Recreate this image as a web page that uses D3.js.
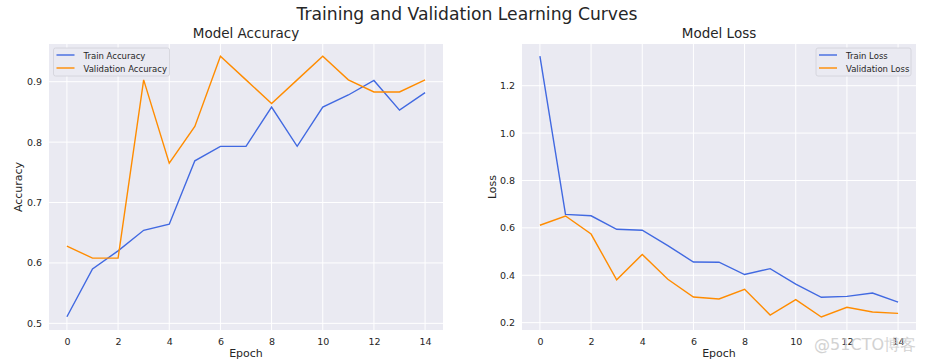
<!DOCTYPE html>
<html>
<head>
<meta charset="utf-8">
<script src="https://cdn.jsdelivr.net/npm/d3@7"></script>
<style>
  body { margin: 0; background: #fff; }
  text { font-family: "DejaVu Sans", sans-serif; }
</style>
</head>
<body>
<div id="chart"></div>
<script>
const epochs = d3.range(0, 15)
const trainAcc = [0.511, 0.590, 0.620, 0.654, 0.664, 0.769, 0.793, 0.793, 0.858, 0.793, 0.858, 0.878, 0.902, 0.853, 0.882]
const valAcc = [0.628, 0.608, 0.608, 0.903, 0.765, 0.826, 0.942, 0.903, 0.864, 0.903, 0.942, 0.903, 0.883, 0.883, 0.903]
const trainLoss = [1.325, 0.657, 0.651, 0.594, 0.590, 0.525, 0.456, 0.455, 0.403, 0.428, 0.363, 0.307, 0.311, 0.325, 0.287]
const valLoss = [0.611, 0.650, 0.574, 0.381, 0.488, 0.383, 0.308, 0.300, 0.341, 0.232, 0.297, 0.224, 0.265, 0.245, 0.239]
const xTicks = [0, 2, 4, 6, 8, 10, 12, 14]
const accTicks = [0.5, 0.6, 0.7, 0.8, 0.9]
const lossTicks = [0.2, 0.4, 0.6, 0.8, 1.0, 1.2]

const width = 926, height = 361
const blue = "#4169e1", orange = "#ff8c00"

const svg = d3.select("#chart").append("svg")
  .attr("width", width).attr("height", height)

svg.append("text")
  .text("Training and Validation Learning Curves")
  .attr("x", width / 2 + 4).attr("y", 20)
  .attr("text-anchor", "middle")
  .attr("font-size", 17.2).attr("fill", "#262626")

const makePanel = function(opts) {
  const { left, right, top, bottom } = opts
  const x = d3.scaleLinear().domain([-0.7, 14.7]).range([left, right])
  const y = d3.scaleLinear().domain(opts.yDomain).range([bottom, top])
  const g = svg.append("g")

  // background
  g.append("rect")
    .attr("x", left).attr("y", top)
    .attr("width", right - left).attr("height", bottom - top)
    .attr("fill", "#eaeaf2")

  // grid
  g.selectAll(".gx").data(xTicks).enter().append("line")
    .attr("x1", d => x(d)).attr("x2", d => x(d))
    .attr("y1", top).attr("y2", bottom)
    .attr("stroke", "#fff").attr("stroke-width", 1)
  g.selectAll(".gy").data(opts.yTicks).enter().append("line")
    .attr("y1", d => y(d)).attr("y2", d => y(d))
    .attr("x1", left).attr("x2", right)
    .attr("stroke", "#fff").attr("stroke-width", 1)

  // axes
  const xAxis = d3.axisBottom(x).tickValues(xTicks).tickSize(0).tickPadding(8)
  const ax = g.append("g").attr("transform", "translate(0," + bottom + ")").call(xAxis)
  const yAxis = d3.axisLeft(y).tickValues(opts.yTicks).tickSize(0).tickPadding(7).tickFormat(d3.format(".1f"))
  const ay = g.append("g").attr("transform", "translate(" + left + ",0)").call(yAxis)
  ;[ax, ay].forEach(a => {
    a.select(".domain").remove()
    a.selectAll("text").attr("font-size", 9.5).attr("fill", "#262626").attr("font-family", "DejaVu Sans")
  })

  // lines
  const line = d3.line().x((d, i) => x(epochs[i])).y(d => y(d))
  opts.series.forEach(s => {
    g.append("path").datum(s.values)
      .attr("d", line).attr("fill", "none")
      .attr("stroke", s.color).attr("stroke-width", 1.4)
  })

  // titles
  g.append("text").text(opts.title)
    .attr("x", (left + right) / 2).attr("y", top - 6)
    .attr("text-anchor", "middle").attr("font-size", 13.5).attr("fill", "#262626")
  g.append("text").text("Epoch")
    .attr("x", (left + right) / 2).attr("y", 357)
    .attr("text-anchor", "middle").attr("font-size", 11).attr("fill", "#262626")
  g.append("text").text(opts.yLabel)
    .attr("text-anchor", "middle").attr("font-size", 11).attr("fill", "#262626")
    .attr("transform", "translate(" + opts.yLabelX + "," + ((top + bottom) / 2) + ")rotate(-90)")

  // legend
  const lg = g.append("g").attr("transform", "translate(" + opts.legendX + "," + (top + 4) + ")")
  lg.append("rect")
    .attr("width", opts.legendW).attr("height", 28)
    .attr("fill", "#eaeaf2").attr("stroke", "#d0d0d8").attr("stroke-width", 0.8).attr("rx", 2)
  opts.series.forEach((s, i) => {
    lg.append("line")
      .attr("x1", 3).attr("x2", 21)
      .attr("y1", 7 + i * 13).attr("y2", 7 + i * 13)
      .attr("stroke", s.color).attr("stroke-width", 1.4)
    lg.append("text").text(s.name)
      .attr("x", 30).attr("y", 10.5 + i * 13)
      .attr("font-size", 8.5).attr("fill", "#262626")
  })
}

makePanel({
  left: 49, right: 443, top: 44, bottom: 330,
  yDomain: [0.489, 0.9624], yTicks: accTicks,
  title: "Model Accuracy", yLabel: "Accuracy", yLabelX: 22,
  legendX: 53.5, legendW: 116,
  series: [
    { name: "Train Accuracy", values: trainAcc, color: blue },
    { name: "Validation Accuracy", values: valAcc, color: orange }
  ]
})

makePanel({
  left: 522, right: 916, top: 44, bottom: 330,
  yDomain: [0.169, 1.376], yTicks: lossTicks,
  title: "Model Loss", yLabel: "Loss", yLabelX: 496,
  legendX: 816, legendW: 95,
  series: [
    { name: "Train Loss", values: trainLoss, color: blue },
    { name: "Validation Loss", values: valLoss, color: orange }
  ]
})

// watermark
svg.append("text").text("@51CTO博客")
  .attr("x", 916).attr("y", 350)
  .attr("text-anchor", "end").attr("font-size", 16)
  .attr("font-family", "Noto Sans CJK SC")
  .attr("fill", "#c8c8c8").attr("opacity", 0.8)
</script>
</body>
</html>
